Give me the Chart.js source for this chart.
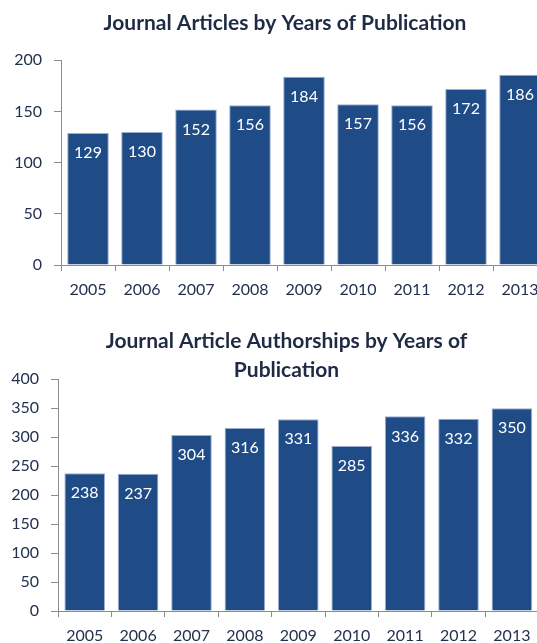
<!DOCTYPE html>
<html>
<head>
<meta charset="utf-8">
<script src="https://cdn.jsdelivr.net/npm/chart.js@4"></script>
<style>
	body { margin: 0; background: #fff; }
	#page { position: relative; width: 537px; height: 643px; overflow: hidden; }
	.box { position: absolute; left: 0; }
</style>
</head>
<body>
<div id="page">
	<div class="box" id="box1" style="top:0; width:570px; height:310px;"><canvas id="chart1"></canvas></div>
	<div class="box" id="box2" style="top:318px; width:573px; height:333px;"><canvas id="chart2"></canvas></div>
</div>
<script>
const years = ['2005', '2006', '2007', '2008', '2009', '2010', '2011', '2012', '2013'];
const articles = [129, 130, 152, 156, 184, 157, 156, 172, 186];
const authorships = [238, 237, 304, 316, 331, 285, 336, 332, 350];
const articleTicks = [0, 50, 100, 150, 200];
const authorTicks = [0, 50, 100, 150, 200, 250, 300, 350, 400];

const FONT = 'Lato';
const BAR = '#1F4B87';
const AXIS = '#8C8C8C';
const TEXT = '#233150';

// white value labels inside the top of each bar
const valueLabels = {
	id: 'valueLabels',
	afterDatasetsDraw(chart) {
		const ctx = chart.ctx;
		const meta = chart.getDatasetMeta(0);
		const values = chart.data.datasets[0].data;
		ctx.save();
		ctx.fillStyle = '#fff';
		ctx.font = '16px ' + FONT;
		ctx.textAlign = 'center';
		ctx.textBaseline = 'middle';
		meta.data.forEach((bar, i) => {
			ctx.fillText(values[i], bar.x, bar.y + 20);
		});
		ctx.restore();
	}
};

function drawChart(id, title, titlePad, info, ticks, opts) {
	const data = {
		labels: years,
		datasets: [{
			data: info,
			backgroundColor: BAR,
			borderColor: '#9AAFCF',
			borderWidth: 1,
			categoryPercentage: 1,
			barPercentage: opts.barPct
		}]
	};
	const config = {
		type: 'bar',
		data: data,
		plugins: [valueLabels],
		options: {
			responsive: true,
			maintainAspectRatio: false,
			animation: false,
			layout: { padding: 0 },
			plugins: {
				legend: { display: false },
				tooltip: { enabled: false },
				title: {
					display: true,
					text: title,
					color: '#1F2A44',
					font: { family: FONT, size: 21, weight: 'bold', lineHeight: opts.titleLine },
					padding: titlePad
				}
			},
			scales: {
				x: {
					grid: { display: true, drawOnChartArea: false, color: AXIS, tickLength: 6, offset: true },
					border: { display: true, color: AXIS, width: 1 },
					ticks: { color: TEXT, font: { family: FONT, size: 16 }, padding: 9, maxRotation: 0 },
					afterFit(s) { s.height = opts.xHeight; }
				},
				y: {
					min: ticks[0],
					max: ticks[ticks.length - 1],
					afterBuildTicks(s) { s.ticks = ticks.map(v => ({ value: v })); },
					grid: { display: true, drawOnChartArea: false, color: AXIS, tickLength: 7 },
					border: { display: true, color: AXIS, width: 1 },
					ticks: { color: TEXT, font: { family: FONT, size: 16 }, padding: 12 },
					afterFit(s) { s.width = opts.yWidth; }
				},
				yr: {
					position: 'right',
					grid: { display: false },
					border: { display: false },
					ticks: { display: false },
					afterFit(s) { s.width = opts.rightGap; }
				}
			}
		}
	};
	let ctx = document.getElementById(id).getContext('2d');
	new Chart(ctx, config);
}

drawChart('chart1', 'Journal Articles by Years of Publication',
	{ top: 10.4, bottom: 24.7 }, articles, articleTicks,
	{ barPct: 0.77, xHeight: 45, yWidth: 61, rightGap: 23, titleLine: 1.2 });

drawChart('chart2', ['Journal Article Authorships by Years of', 'Publication'],
	{ top: 8.5, bottom: -5.2 }, authorships, authorTicks,
	{ barPct: 0.76, xHeight: 40, yWidth: 58, rightGap: 34.4, titleLine: '29px' });
</script>
</body>
</html>
